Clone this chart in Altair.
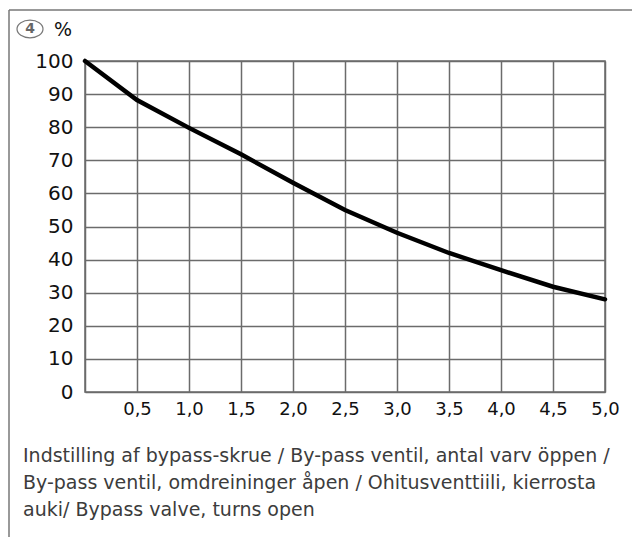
import altair as alt
import pandas as pd

turns = [0.0, 0.5, 1.0, 1.5, 2.0, 2.5, 3.0, 3.5, 4.0, 4.5, 5.0]
percent = [100, 88.2, 79.8, 71.8, 63.2, 55.0, 48.1, 42.0, 36.8, 31.8, 28.0]
x_ticks = [0.0, 0.5, 1.0, 1.5, 2.0, 2.5, 3.0, 3.5, 4.0, 4.5, 5.0]
y_ticks = [0, 10, 20, 30, 40, 50, 60, 70, 80, 90, 100]
caption = [
    "Indstilling af bypass-skrue / By-pass ventil, antal varv öppen /",
    "By-pass ventil, omdreininger åpen / Ohitusventtiili, kierrosta",
    "auki/ Bypass valve, turns open",
]
badge = "4"
unit = "%"

df = pd.DataFrame({"turns": turns, "percent": percent})
one = pd.DataFrame({"k": [0]})

FONT = "DejaVu Sans"
GRID = "#6b6b6b"

x = alt.X(
    "turns:Q",
    scale=alt.Scale(domain=[0, 5], nice=False),
    axis=alt.Axis(
        values=x_ticks, title=None, grid=True, gridColor=GRID, gridWidth=1.5,
        domain=False, ticks=False, labelFontSize=18, labelFont=FONT,
        labelColor="#111", labelPadding=8, labelFlush=False,
        labelExpr="datum.value == 0 ? '' : replace(format(datum.value, '.1f'), '.', ',')",
    ),
)
y = alt.Y(
    "percent:Q",
    scale=alt.Scale(domain=[0, 100], nice=False),
    axis=alt.Axis(
        values=y_ticks, title=None, grid=True, gridColor=GRID, gridWidth=1.5,
        domain=False, ticks=False, labelFontSize=20, labelFont=FONT,
        labelColor="#111", labelPadding=12, labelFlush=False,
    ),
)

line = alt.Chart(df).mark_line(color="black", strokeWidth=4.5, strokeCap="round").encode(x=x, y=y)

frame_top = alt.Chart(one).mark_rule(color="#777", strokeWidth=1.5).encode(
    x=alt.value(-76), x2=alt.value(560), y=alt.value(-51))
frame_left = alt.Chart(one).mark_rule(color="#777", strokeWidth=1.5).encode(
    x=alt.value(-76), y=alt.value(-51), y2=alt.value(500))

ellipse = alt.Chart(one).mark_point(
    shape="M-1,0 A1,0.68 0 1,1 1,0 A1,0.68 0 1,1 -1,0 Z",
    size=676, color="#777", filled=False, strokeWidth=1.2, opacity=1,
).encode(x=alt.value(-55), y=alt.value(-32))
badge_txt = alt.Chart(one).mark_text(
    text=badge, font=FONT, fontSize=14, fontWeight="bold", color="#666",
    align="center", baseline="middle",
).encode(x=alt.value(-55), y=alt.value(-32))
unit_txt = alt.Chart(one).mark_text(
    text=unit, font=FONT, fontSize=19, color="#111", align="left", baseline="middle",
).encode(x=alt.value(-31), y=alt.value(-31))

cap = alt.Chart(one).mark_text(
    text=caption, font=FONT, fontSize=19, color="#3c3c3c", align="left",
    baseline="middle", lineHeight=27,
).encode(x=alt.value(-62), y=alt.value(395))

chart = alt.layer(frame_top, frame_left, line, ellipse, badge_txt, unit_txt, cap).properties(
    width=520, height=331,
    autosize=alt.AutoSizeParams(type="none"),
    padding={"left": 77, "top": 53, "right": 27, "bottom": 145},
).configure_view(stroke=GRID, strokeWidth=1.5)

chart.save("out.html", embed_options={"renderer": "svg", "actions": False})
